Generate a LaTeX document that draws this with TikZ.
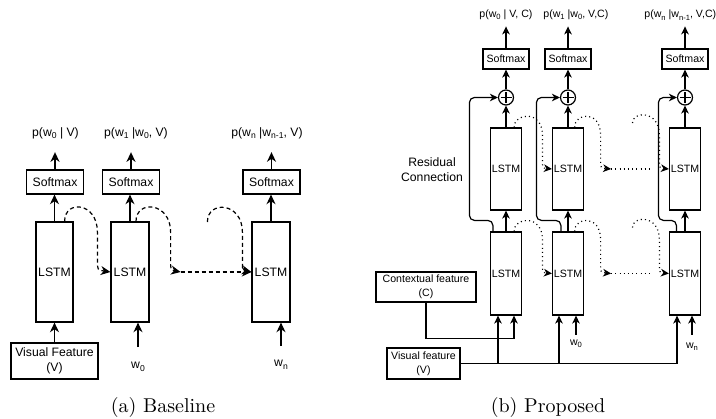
\documentclass[tikz,border=0pt]{standalone}
\usepackage{fontspec}
\newfontfamily\arialf{Liberation Sans}
\usetikzlibrary{arrows.meta,calc}
\newcommand\subA[1]{\raisebox{-0.22em}{\fontsize{4.3}{4.3}\selectfont #1}}
\newcommand\subB[1]{\raisebox{-0.22em}{\fontsize{3.8}{3.8}\selectfont #1}}
\begin{document}
\begin{tikzpicture}[x=0.5pt,y=-0.5pt,
  box/.style={draw,line width=0.6pt,inner sep=0pt,align=center},
  fa/.style={font=\arialf\fontsize{6.1}{7.5}\selectfont},
  fb/.style={font=\arialf\fontsize{5.3}{7}\selectfont},
  arr/.style={line width=0.6pt,-{Stealth[length=4.8pt,width=4.5pt,inset=1.5pt]}},
  arrp/.style={line width=0.6pt,-{Stealth[length=4pt,width=3.8pt,inset=1.2pt]}},
  ln/.style={line width=0.6pt},
  dsh/.style={dash pattern=on 2pt off 1.5pt},
  dtt/.style={dash pattern=on 0.5pt off 1.6pt},
  lab/.style={inner sep=0pt},
  lstmA/.style={box,fa,minimum width=19pt,minimum height=50pt},
  smA/.style={box,fa,minimum width=28.5pt,minimum height=12pt},
  lstmB/.style={box,fb,minimum width=15.5pt},
  smB/.style={box,fb,minimum width=23pt,minimum height=10pt},
  plus/.style={circle,draw,line width=0.6pt,minimum size=7.5pt,inner sep=0pt},
  captxt/.style={font=\fontsize{10}{12}\selectfont},
]
\useasboundingbox (0,0) rectangle (716,418);

% ---------------- (a) Baseline ----------------
\node[lstmA,minimum width=18.5pt] (ls1) at (54.5,272) {LSTM};
\node[lstmA] (ls2) at (130,272) {LSTM};
\node[lstmA] (ls3) at (271,272) {LSTM};
\node[smA] (sm1) at (55,182) {Softmax};
\node[smA] (sm2) at (131,182) {Softmax};
\node[smA] (sm3) at (271.5,182) {Softmax};
\node[fa,lab] (lb1) at (55.5,133) {p(w\subA{0} | V)};
\node[fa,lab] (lb2) at (136,133) {p(w\subA{1} |w\subA{0}, V)};
\node[fa,lab] (lb3) at (267,133) {p(w\subA{n} |w\subA{n-1}, V)};
\node[box,fa,minimum width=43.5pt,minimum height=18pt] (vf) at (54.5,361) {Visual Feature\\(V)};
\node[fa,lab] (w0) at (138,367) {w\subA{0}};
\node[fa,lab] (wn) at (281,365) {w\subA{n}};

\draw[arr] (ls1.north) -- (ls1.north |- sm1.south);
\draw[arr] (ls2.north) -- (ls2.north |- sm2.south);
\draw[arr] (ls3.north) -- (ls3.north |- sm3.south);
\draw[arr,shorten >=6.5pt] (sm1.north) -- (sm1.north |- lb1.south);
\draw[arr,shorten >=6.5pt] (sm2.north) -- (sm2.north |- lb2.south);
\draw[arr,shorten >=6.5pt] (sm3.north) -- (sm3.north |- lb3.south);
\draw[arr] (vf) -- (ls1);
\draw[arr,shorten <=7.5pt] (w0.north) -- (w0.north |- ls2.south);
\draw[arr,shorten <=7pt] (wn.north) -- (wn.north |- ls3.south);

\coordinate (m1) at ($(ls2.east)+(31,0)$);
\coordinate (s3) at ($(ls3.west)+(-44,-50)$);
\draw[arr,dsh] ($(ls1.north east)+(-9,0)$) .. controls +(0,-22) and +(0,-30) .. ($(ls2.west)+(-13,-40)$) -- ($(ls2.west)+(-13,-12)$) .. controls +(0,10) .. (ls2.west);
\draw[arr,dsh] ($(ls2.north)+(6,0)$) .. controls +(0,-22) and +(0,-30) .. ($(m1)+(-10,-40)$) -- ($(m1)+(-10,-12)$) .. controls +(0,10) .. (m1);
\draw[arr,dsh] (m1) -- (ls3.west);
\draw[arr,dsh] (s3) .. controls +(0,-22) and +(0,-30) .. ($(ls3.west)+(-9,-40)$) -- ($(ls3.west)+(-9,-12)$) .. controls +(0,10) .. (ls3.west);

\node[captxt] (capa) at (163,407) {(a) Baseline};

% ---------------- (b) Proposed ----------------
\foreach \i/\x in {1/506,2/568,3/685}{
  \node[lstmB,minimum height=41pt] (up\i) at (\x,169) {LSTM};
  \node[lstmB,minimum height=41.5pt] (lo\i) at (\x,273.5) {LSTM};
  \node[plus] (pl\i) at (\x,97.5) {};
  \draw[ln] ($(pl\i.center)+(0,-5.5)$) -- ($(pl\i.center)+(0,5.5)$)
            ($(pl\i.center)+(-5.5,0)$) -- ($(pl\i.center)+(5.5,0)$);
  \node[smB] (sp\i) at (\x,59) {Softmax};
  \draw[arrp] (lo\i.north) -- (up\i.south);
  \draw[arrp] (up\i.north) -- (pl\i.south);
  \draw[arrp] (pl\i.north) -- (sp\i.south);
}
\node[fb,lab,anchor=west] (lp1) at (479,15) {p(w\subB{0} | V, C)};
\node[fb,lab,anchor=west] (lp2) at (543,15) {p(w\subB{1} |w\subB{0}, V,C)};
\node[fb,lab,anchor=west] (lp3) at (644,15) {p(w\subB{n} |w\subB{n-1}, V,C)};
\draw[arrp,shorten >=3pt] (sp1.north) -- (sp1.north |- lp1.south);
\draw[arrp,shorten >=3pt] (sp2.north) -- (sp2.north |- lp2.south);
\draw[arrp,shorten >=3pt] (sp3.north) -- (sp3.north |- lp3.south);

% residual connections
\draw[arrp,rounded corners=2.5pt] ($(lo1.north west)+(3,0)$) -- ++(0,-11) -| ($(pl1.west)+(-28.5,0)$) -- (pl1.west);
\draw[arrp,rounded corners=2.5pt] ($(lo2.north west)+(9,0)$) -- ++(0,-11) -| ($(pl2.west)+(-23.5,0)$) -- (pl2.west);
\draw[arrp,rounded corners=2.5pt] ($(lo3.north west)+(7.5,0)$) -- ++(0,-11) -| ($(pl3.west)+(-18.5,0)$) -- (pl3.west);
\node[fa,lab,align=center] (rc) at (432,170) {Residual\\Connection};

% inputs
\node[box,fb,minimum width=36.5pt,minimum height=15.5pt] (vfp) at (423.5,363.5) {Visual feature\\(V)};
\node[box,fb,minimum width=50pt,minimum height=15pt] (cf) at (426,287) {Contextual feature\\(C)};
\coordinate (a1) at ($(lo1.south)+(-8,0)$);
\coordinate (a2) at ($(lo2.south)+(-9,0)$);
\coordinate (a3) at ($(lo3.south)+(-8,0)$);
\coordinate (b1) at ($(lo1.south)+(8,0)$);
\draw[ln] (vfp.east) -- (a3 |- vfp.east);
\draw[arrp] (a1 |- vfp.east) -- (a1);
\draw[arrp] (a2 |- vfp.east) -- (a2);
\draw[arrp] (a3 |- vfp.east) -- (a3);
\draw[arrp] (cf.south) -- ++(0,36) -| (b1);
\node[fb,lab] (w0p) at (576,344) {w\subB{0}};
\node[fb,lab] (wnp) at (692,347) {w\subB{n}};
\draw[arrp,shorten <=2.5pt] (w0p.north) -- (w0p.north |- lo2.south);
\draw[arrp,shorten <=4pt] (wnp.north) -- (wnp.north |- lo3.south);

% recurrent dotted connections (upper and lower rows)
\foreach \r in {up,lo}{
  \coordinate (m\r) at ($(\r2.east)+(27,0)$);
  \coordinate (e\r) at ($(\r3.west)+(-16.5,0)$);
  \coordinate (s\r) at ($(\r3.west)+(-36.5,-46)$);
  \draw[arrp,dtt] ($(\r1.north east)+(-8,0)$) .. controls +(0,-15) and +(0,-25) .. ($(\r2.west)+(-9.5,-34)$) -- ($(\r2.west)+(-9.5,-10)$) .. controls +(0,9) .. (\r2.west);
  \draw[arrp,dtt] ($(\r2.north east)+(-9.5,0)$) .. controls +(0,-15) and +(0,-25) .. ($(m\r)+(-10.5,-34)$) -- ($(m\r)+(-10.5,-10)$) .. controls +(0,9) .. (m\r);
  \draw[ln,dtt] (m\r) -- (e\r);
  \draw[arrp,dtt] (s\r) .. controls +(0,-12) and +(0,-25) .. ($(\r3.west)+(-9.5,-34)$) -- ($(\r3.west)+(-9.5,-10)$) .. controls +(0,9) .. (\r3.west);
}

\node[captxt] (capb) at (548,407) {(b) Proposed};
\end{tikzpicture}
\end{document}
